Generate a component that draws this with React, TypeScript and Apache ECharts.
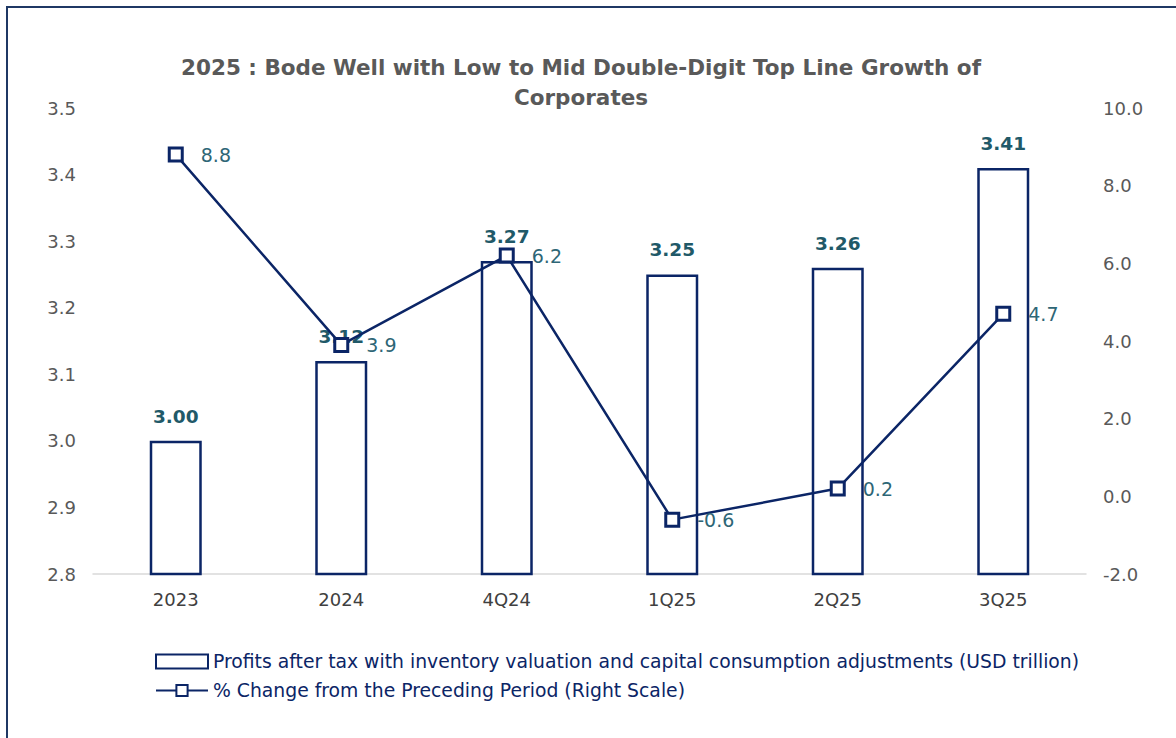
import React, { useEffect, useRef } from "react";
import * as echarts from "echarts";

const categories = ["2023", "2024", "4Q24", "1Q25", "2Q25", "3Q25"];
const profits = [3.0, 3.12, 3.27, 3.25, 3.26, 3.41];
const pctChange = [8.8, 3.9, 6.2, -0.6, 0.2, 4.7];
const titleLines = [
  "2025 : Bode Well with Low to Mid Double-Digit Top Line Growth of",
  "Corporates",
];
const barName =
  "Profits after tax with inventory valuation and capital consumption adjustments (USD trillion)";
const lineName = "% Change from the Preceding Period (Right Scale)";

const NAVY = "#0b2566";
const FONT = "'DejaVu Sans', Verdana, sans-serif";

export default function App() {
  const ref = useRef<HTMLDivElement>(null);
  useEffect(() => {
    const chart = echarts.init(ref.current!, null, { renderer: "svg" });
    chart.setOption({
      animation: false,
      backgroundColor: "#ffffff",
      textStyle: { fontFamily: FONT },
      graphic: [
        {
          type: "rect",
          shape: { x: 7, y: 7, width: 1300, height: 900 },
          style: { fill: "none", stroke: "#1f3864", lineWidth: 2 },
          silent: true,
        },
        {
          type: "text",
          x: 581,
          y: 82,
          style: {
            text: titleLines.join("\n"),
            fontFamily: FONT,
            fontSize: 21.5,
            fontWeight: "bold",
            fill: "#595959",
            align: "center",
            verticalAlign: "middle",
            lineHeight: 30,
          },
        },
      ],
      legend: {
        orient: "vertical",
        left: 155,
        top: 652,
        padding: 0,
        itemWidth: 52,
        itemHeight: 14,
        itemGap: 10,
        textStyle: { color: "#0b2566", fontSize: 18.8, fontFamily: FONT },
        data: [
          { name: barName, icon: "rect" },
          { name: lineName },
        ],
      },
      grid: { left: 93, right: 90, top: 108, bottom: 164 },
      xAxis: {
        type: "category",
        data: categories,
        axisTick: { show: false },
        axisLine: { onZero: false, lineStyle: { color: "#d9d9d9", width: 1.5 } },
        axisLabel: { color: "#404040", fontSize: 18, margin: 16, fontFamily: FONT },
      },
      yAxis: [
        {
          type: "value",
          min: 2.8,
          max: 3.5,
          interval: 0.1,
          splitLine: { show: false },
          axisLine: { show: false },
          axisTick: { show: false },
          axisLabel: {
            color: "#595959",
            fontSize: 18,
            margin: 17,
            fontFamily: FONT,
            formatter: (v: number) => v.toFixed(1),
          },
        },
        {
          type: "value",
          min: -2,
          max: 10,
          interval: 2,
          splitLine: { show: false },
          axisLine: { show: false },
          axisTick: { show: false },
          axisLabel: {
            color: "#595959",
            fontSize: 18,
            margin: 17,
            fontFamily: FONT,
            formatter: (v: number) => v.toFixed(1),
          },
        },
      ],
      series: [
        {
          name: barName,
          type: "bar",
          data: profits,
          barWidth: 52,
          itemStyle: { color: "#ffffff", borderColor: NAVY, borderWidth: 2.5 },
          label: {
            show: true,
            position: "top",
            distance: 15,
            color: "#215968",
            fontWeight: "bold",
            fontSize: 18.5,
            fontFamily: FONT,
            formatter: (p: any) => Number(p.value).toFixed(2),
          },
          z: 2,
        },
        {
          name: lineName,
          type: "line",
          yAxisIndex: 1,
          data: pctChange,
          symbol: "rect",
          symbolSize: 13,
          lineStyle: { color: NAVY, width: 2.5 },
          itemStyle: { color: "#ffffff", borderColor: NAVY, borderWidth: 3 },
          label: {
            show: true,
            position: "right",
            distance: 17,
            color: "#2e6676",
            fontSize: 19,
            fontFamily: FONT,
            formatter: (p: any) => Number(p.value).toFixed(1),
          },
          z: 3,
        },
      ],
    });
    return () => chart.dispose();
  }, []);
  return (
    <div
      ref={ref}
      style={{ position: "absolute", left: 0, top: 0, width: 1176, height: 738 }}
    />
  );
}
